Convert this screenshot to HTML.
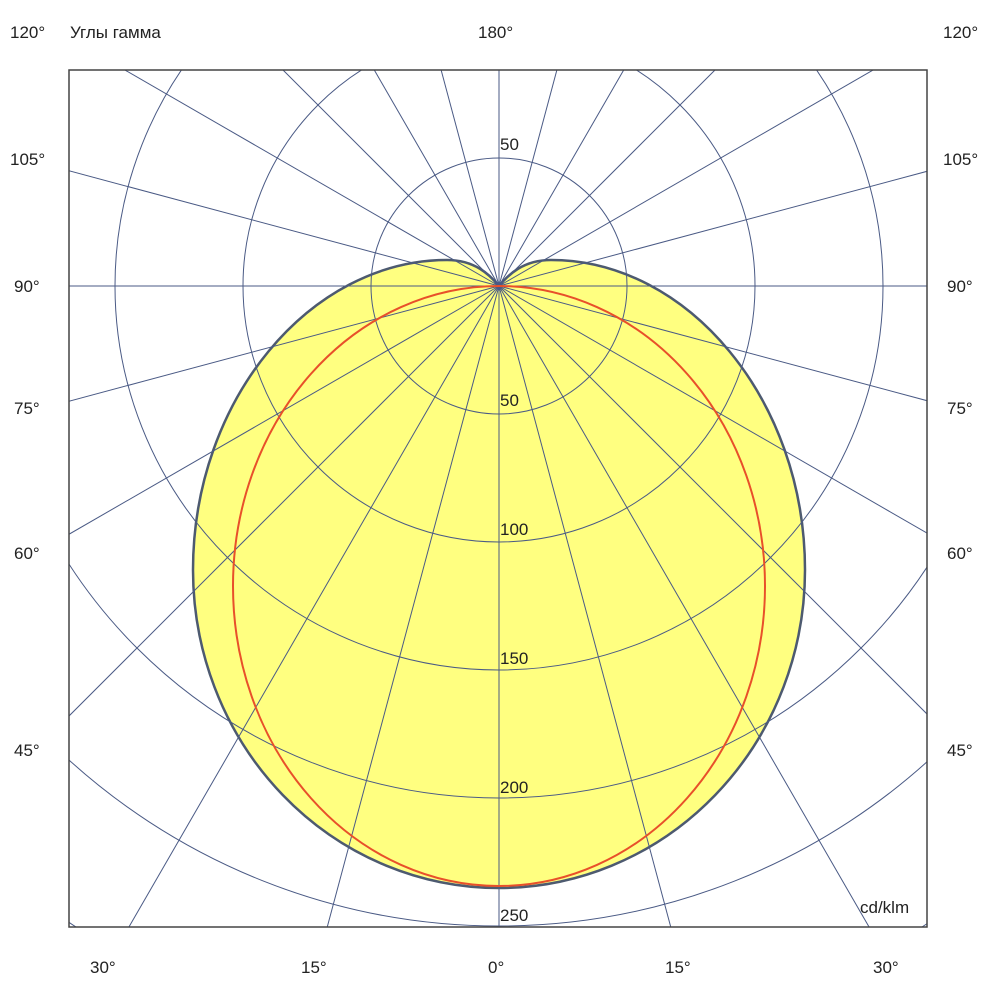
<!DOCTYPE html>
<html><head><meta charset="utf-8"><style>
html,body{margin:0;padding:0;background:#fff;overflow:hidden;width:1000px;height:1000px;}
svg{display:block;position:absolute;left:0;top:0;}
text{font-family:"Liberation Sans","DejaVu Sans",sans-serif;font-size:17px;fill:#222;}
</style></head><body>
<svg width="1000" height="1000" viewBox="0 0 1000 1000" xmlns="http://www.w3.org/2000/svg">
<defs><clipPath id="c"><rect x="69" y="70" width="858" height="857"/></clipPath></defs>
<rect width="1000" height="1000" fill="#fff"/>
<g clip-path="url(#c)">
<path fill="#ffff80" stroke="#4d5a70" stroke-width="2.5" d="M499,286 C490,275 475,260 447,260 C310,260 193,400 193,570 A306,318 0 0 0 805,570 C805,400 688,260 551,260 C523,260 508,275 499,286 Z"/>
<g id="grid" stroke="#4a5a85" stroke-width="1" fill="none"></g>
<ellipse cx="499" cy="586" rx="266" ry="300" fill="none" stroke="#e8502a" stroke-width="2"/>
</g>
<rect x="69" y="70" width="858" height="857" fill="none" stroke="#444" stroke-width="1.5"/>
<text x="10" y="38">120°</text><text x="70" y="38">Углы гамма</text><text x="478" y="38">180°</text><text x="943" y="38">120°</text>
<text x="10" y="165">105°</text><text x="943" y="165">105°</text>
<text x="14" y="292">90°</text><text x="947" y="292">90°</text>
<text x="14" y="414">75°</text><text x="947" y="414">75°</text>
<text x="14" y="559">60°</text><text x="947" y="559">60°</text>
<text x="14" y="756">45°</text><text x="947" y="756">45°</text>
<text x="90" y="973">30°</text><text x="301" y="973">15°</text><text x="488" y="973">0°</text><text x="665" y="973">15°</text><text x="873" y="973">30°</text>
<text x="500" y="150">50</text><text x="500" y="406">50</text><text x="500" y="535">100</text><text x="500" y="664">150</text><text x="500" y="793">200</text><text x="500" y="921">250</text>
<text x="860" y="913">cd/klm</text>
</svg>
<script>
var g=document.getElementById('grid'),ns='http://www.w3.org/2000/svg',cx=499,cy=286;
for(var r=128;r<=1000;r+=128){var c=document.createElementNS(ns,'circle');c.setAttribute('cx',cx);c.setAttribute('cy',cy);c.setAttribute('r',r);g.appendChild(c);}
for(var a=0;a<360;a+=15){var t=a*Math.PI/180,l=document.createElementNS(ns,'line');l.setAttribute('x1',cx);l.setAttribute('y1',cy);l.setAttribute('x2',cx+1400*Math.sin(t));l.setAttribute('y2',cy+1400*Math.cos(t));g.appendChild(l);}
</script>
</body></html>
